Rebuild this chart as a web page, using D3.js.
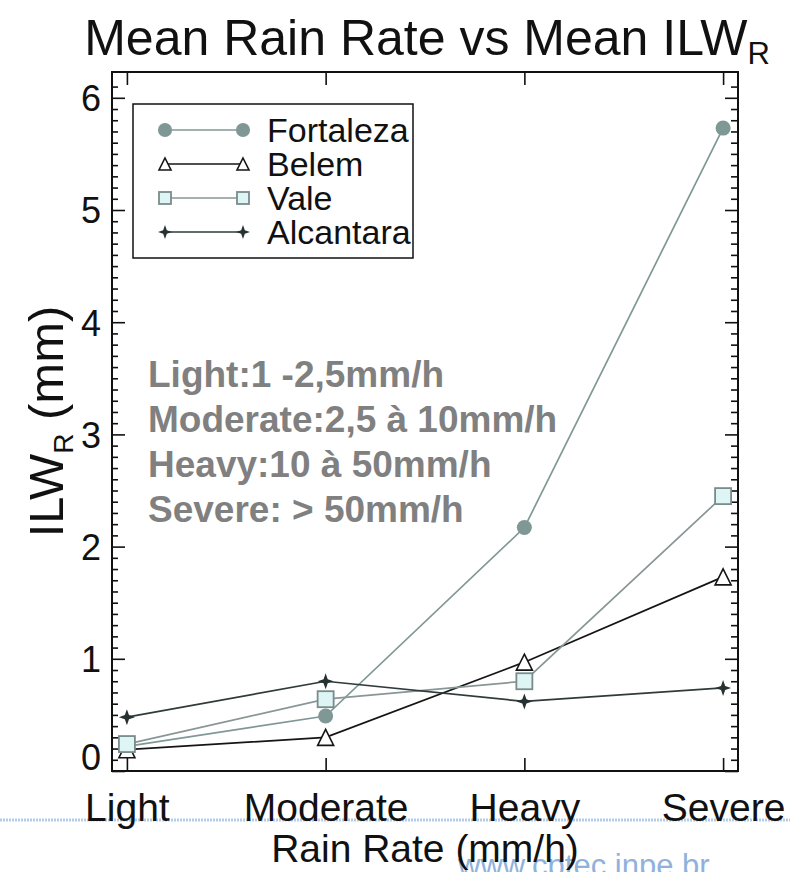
<!DOCTYPE html>
<html>
<head>
<meta charset="utf-8">
<script src="https://cdn.jsdelivr.net/npm/d3@7"></script>
<style>
  html, body { margin: 0; padding: 0; background: #fff; }
  svg { display: block; font-family: "Liberation Sans", Arial, Helvetica, sans-serif; }
</style>
</head>
<body>
<svg id="chart" width="790" height="872"></svg>
<script>
// Rain-rate classes on the x axis
const categories = ["Light", "Moderate", "Heavy", "Severe"];

// Mean ILW_R (mm) per station and class
const fortaleza = [0.22, 0.49, 2.17, 5.73];
const belem     = [0.19, 0.30, 0.97, 1.73];
const vale      = [0.24, 0.64, 0.80, 2.45];
const alcantara = [0.48, 0.80, 0.62, 0.74];

const yTicks = [0, 1, 2, 3, 4, 5, 6];
const classNotes = [
  "Light:1 -2,5mm/h",
  "Moderate:2,5 à 10mm/h",
  "Heavy:10 à 50mm/h",
  "Severe: > 50mm/h"
];

const series = [
  { name: "Fortaleza", values: fortaleza, line: "#7f9896", marker: "circle",   fill: "#7f9896", stroke: "#7f9896" },
  { name: "Belem",     values: belem,     line: "#151515", marker: "triangle", fill: "#ffffff", stroke: "#151515" },
  { name: "Vale",      values: vale,      line: "#889696", marker: "square",   fill: "#ddf5f5", stroke: "#7b8b8b" },
  { name: "Alcantara", values: alcantara, line: "#2f3a3a", marker: "star",     fill: "#273131", stroke: "#273131" }
];

const svg = d3.select("#chart");
const W = 790, H = 872;
const frame = { left: 112, right: 738, top: 72, bottom: 771 };

const x = d3.scalePoint().domain(categories).range([frame.left, frame.right]).padding(0.075);
const y = d3.scaleLinear().domain([0, 6.23]).range([frame.bottom, frame.top]);

// Faint page decoration behind the axis labels
svg.append("line")
  .attr("x1", 0).attr("x2", W).attr("y1", 820).attr("y2", 820)
  .attr("stroke", "#b3cde8").attr("stroke-width", 3).attr("stroke-dasharray", "2,1");
svg.append("text")
  .attr("x", 458).attr("y", 876)
  .attr("font-size", 31).attr("fill", "#8fb2dc")
  .text("www.cptec.inpe.br");

// Title with subscript
const title = svg.append("text")
  .attr("x", (frame.left + frame.right) / 2 + 2).attr("y", 55)
  .attr("text-anchor", "middle").attr("font-size", 50).attr("fill", "#111");
title.append("tspan").text("Mean Rain Rate vs Mean ILW");
title.append("tspan").attr("font-size", 31).attr("dy", 9).text("R");

// Axes: major and minor ticks pointing into the frame
const g = svg.append("g");
const minor = d3.range(0, 62).map(d => d / 10).filter(d => d % 1 !== 0 && d <= 6.23);

function styleAxis(sel) {
  sel.select(".domain").remove();
  sel.selectAll(".tick line").attr("stroke", "#111").attr("stroke-width", 1.6);
}

g.append("g").attr("transform", `translate(${frame.left},0)`)
  .call(d3.axisLeft(y).tickValues(minor).tickSizeInner(-6).tickSizeOuter(0).tickFormat(""))
  .call(styleAxis);
g.append("g").attr("transform", `translate(${frame.right},0)`)
  .call(d3.axisRight(y).tickValues(minor).tickSizeInner(-7).tickSizeOuter(0).tickFormat(""))
  .call(styleAxis);
g.append("g").attr("transform", `translate(${frame.right},0)`)
  .call(d3.axisRight(y).tickValues(yTicks).tickSizeInner(-13).tickSizeOuter(0).tickFormat(""))
  .call(styleAxis);

const yAxis = g.append("g").attr("transform", `translate(${frame.left},0)`)
  .call(d3.axisLeft(y).tickValues(yTicks).tickSizeInner(-13).tickSizeOuter(0).tickPadding(11).tickFormat(d3.format("d")))
  .call(styleAxis);
yAxis.selectAll(".tick text")
  .attr("font-size", 36).attr("fill", "#111").attr("font-family", "Liberation Sans, Arial, sans-serif")
  .attr("dy", d => d === 0 ? "-0.05em" : "0.36em");

g.append("g").attr("transform", `translate(0,${frame.top})`)
  .call(d3.axisTop(x).tickSizeInner(-13).tickSizeOuter(0).tickFormat(""))
  .call(styleAxis);
const xAxis = g.append("g").attr("transform", `translate(0,${frame.bottom})`)
  .call(d3.axisBottom(x).tickSizeInner(-13).tickSizeOuter(0).tickPadding(0))
  .call(styleAxis);
xAxis.selectAll(".tick text")
  .attr("font-size", 39).attr("fill", "#111").attr("font-family", "Liberation Sans, Arial, sans-serif")
  .attr("y", 50).attr("dy", 0);

// Frame
svg.append("rect")
  .attr("x", frame.left).attr("y", frame.top)
  .attr("width", frame.right - frame.left).attr("height", frame.bottom - frame.top)
  .attr("fill", "none").attr("stroke", "#111").attr("stroke-width", 2);

// Axis titles
svg.append("text")
  .attr("x", (frame.left + frame.right) / 2).attr("y", 862)
  .attr("text-anchor", "middle").attr("font-size", 39).attr("fill", "#111")
  .text("Rain Rate (mm/h)");

const yl = svg.append("text")
  .attr("transform", `translate(63,${(frame.top + frame.bottom) / 2}) rotate(-90)`)
  .attr("text-anchor", "middle").attr("font-size", 49).attr("fill", "#111");
yl.append("tspan").text("ILW");
yl.append("tspan").attr("font-size", 28).attr("dy", 10).text("R");
yl.append("tspan").attr("dy", -10).text(" (mm)");

// Class definitions
svg.append("g").selectAll("text").data(classNotes).join("text")
  .attr("x", 148).attr("y", (d, i) => 387 + i * 45)
  .attr("font-size", 37).attr("font-weight", "bold").attr("fill", "#808080")
  .text(d => d);

// Marker drawing
function marker(sel, type, size, fill, stroke) {
  const s = size;
  if (type === "circle") {
    sel.append("circle").attr("r", s * 0.47).attr("fill", fill).attr("stroke", "none");
  } else if (type === "triangle") {
    sel.append("path").attr("d", `M0,${-s / 2}L${s / 2},${s / 2}L${-s / 2},${s / 2}Z`)
      .attr("fill", fill).attr("stroke", stroke).attr("stroke-width", 1.6);
  } else if (type === "square") {
    sel.append("rect").attr("x", -s / 2).attr("y", -s / 2).attr("width", s).attr("height", s)
      .attr("fill", fill).attr("stroke", stroke).attr("stroke-width", 1.8);
  } else if (type === "star") {
    const a = s / 2, b = s * 0.13;
    sel.append("path")
      .attr("d", `M0,${-a}L${b},${-b}L${a},0L${b},${b}L0,${a}L${-b},${b}L${-a},0L${-b},${-b}Z`)
      .attr("fill", fill);
  }
}

const line = d3.line().x((d, i) => x(categories[i])).y(d => y(d));
const plot = svg.append("g");
series.forEach(s => {
  plot.append("path").datum(s.values)
    .attr("d", line).attr("fill", "none")
    .attr("stroke", s.line).attr("stroke-width", 1.7);
  s.values.forEach((v, i) => {
    const m = plot.append("g").attr("transform", `translate(${x(categories[i])},${y(v)})`);
    marker(m, s.marker, 16, s.fill, s.stroke);
  });
});

// Legend
const legend = svg.append("g");
legend.append("rect")
  .attr("x", 133).attr("y", 104).attr("width", 280).attr("height", 154)
  .attr("fill", "#fff").attr("stroke", "#111").attr("stroke-width", 1.5);
series.forEach((s, i) => {
  const ry = 130 + i * 34;
  legend.append("line").attr("x1", 165).attr("x2", 243).attr("y1", ry).attr("y2", ry)
    .attr("stroke", s.line).attr("stroke-width", 1.7);
  [165, 243].forEach(px => {
    const m = legend.append("g").attr("transform", `translate(${px},${ry})`);
    marker(m, s.marker, s.marker === "circle" ? 15 : (s.marker === "star" ? 14 : 12), s.fill, s.stroke);
  });
  legend.append("text").attr("x", 267).attr("y", ry + 12)
    .attr("font-size", 34).attr("fill", "#111").text(s.name);
});
</script>
</body>
</html>
